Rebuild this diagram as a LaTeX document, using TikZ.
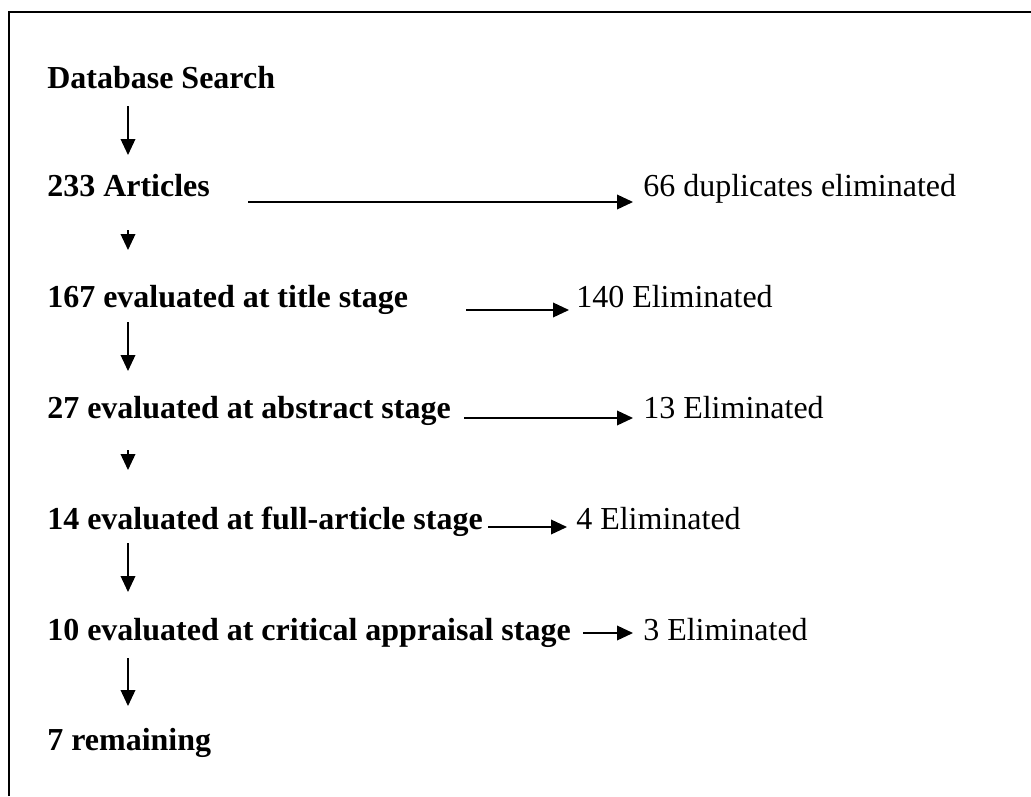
\documentclass[tikz,border=0pt]{standalone}
\usepackage{fontspec}
\setmainfont{Liberation Serif}
\usetikzlibrary{arrows.meta}
\begin{document}
\begin{tikzpicture}[x=0.75pt,y=-0.75pt,
  stage/.style={anchor=base west,inner sep=0pt,font=\fontsize{24}{28}\selectfont\bfseries},
  outc/.style={anchor=base west,inner sep=0pt,font=\fontsize{24}{28}\selectfont},
  arr/.style={line width=1.1pt,-{Triangle[length=12pt,width=11pt]}},
  frame/.style={line width=1.5pt}]
\useasboundingbox (0,0) rectangle (1031,796);
\draw[frame] (8.5,796) -- (8.5,11.5) -- (1031,11.5);
% stages
\node[stage] (s0) at (47,88) {Database Search};
\node[stage] (s1) at (47,196) {233 Articles};
\node[stage] (s2) at (47,307) {167 evaluated at title stage};
\node[stage] (s3) at (47,418) {27 evaluated at abstract stage};
\node[stage] (s4) at (47,529) {14 evaluated at full-article stage};
\node[stage] (s5) at (47,640) {10 evaluated at critical appraisal stage};
\node[stage] (s6) at (47,750) {7 remaining};
% outcomes
\node[outc] (o1) at (643,196) {66 duplicates eliminated};
\node[outc] (o2) at (576,307) {140 Eliminated};
\node[outc] (o3) at (643,418) {13 Eliminated};
\node[outc] (o4) at (576,529) {4 Eliminated};
\node[outc] (o5) at (643,640) {3 Eliminated};
% vertical arrow ends
\coordinate (v1a) at (128,106); \coordinate (v1b) at (128,155);
\coordinate (v2a) at (128,230); \coordinate (v2b) at (128,250);
\coordinate (v3a) at (128,322); \coordinate (v3b) at (128,371);
\coordinate (v4a) at (128,450); \coordinate (v4b) at (128,470);
\coordinate (v5a) at (128,543); \coordinate (v5b) at (128,592);
\coordinate (v6a) at (128,658); \coordinate (v6b) at (128,706);
\draw[arr] (v1a) -- (v1b);
\draw[arr] (v2a) -- (v2b);
\draw[arr] (v3a) -- (v3b);
\draw[arr] (v4a) -- (v4b);
\draw[arr] (v5a) -- (v5b);
\draw[arr] (v6a) -- (v6b);
% horizontal arrow ends
\coordinate (h1a) at (248,202); \coordinate (h1b) at (633,202);
\coordinate (h2a) at (466,310); \coordinate (h2b) at (569,310);
\coordinate (h3a) at (464,418); \coordinate (h3b) at (633,418);
\coordinate (h4a) at (488,527); \coordinate (h4b) at (567,527);
\coordinate (h5a) at (583,633); \coordinate (h5b) at (633,633);
\draw[arr] (h1a) -- (h1b);
\draw[arr] (h2a) -- (h2b);
\draw[arr] (h3a) -- (h3b);
\draw[arr] (h4a) -- (h4b);
\draw[arr] (h5a) -- (h5b);
\end{tikzpicture}
\end{document}
